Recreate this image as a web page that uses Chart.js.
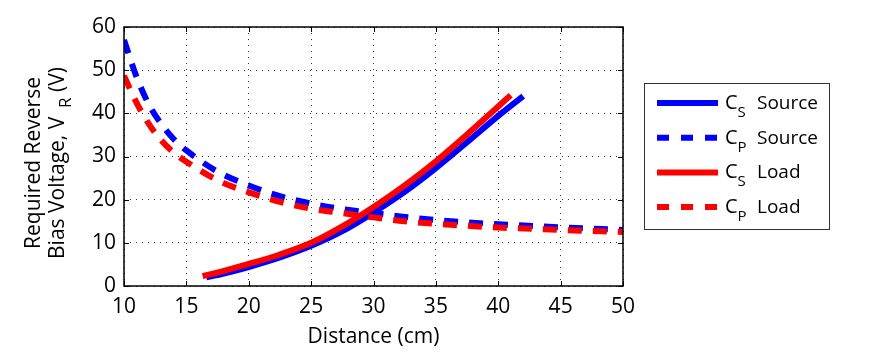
<!DOCTYPE html>
<html>
<head>
<meta charset="utf-8">
<script src="https://cdn.jsdelivr.net/npm/chart.js@4"></script>
<style>
  html, body { margin: 0; padding: 0; background: #fff; }
  canvas { display: block; }
</style>
</head>
<body>
<canvas id="c" width="872" height="364"></canvas>
<script>
// values (distance in cm, reverse bias in V)
const cpDist = [10, 11, 12, 13, 14, 15, 17.5, 20, 22.5, 25, 27.5, 30, 32.5, 35, 37.5, 40, 45, 50];
const cpSource = [57, 48.5, 42, 37.5, 34, 31.4, 26.5, 23.3, 20.8, 19.1, 17.8, 16.9, 16.0, 15.3, 14.75, 14.3, 13.6, 13.0];
const cpLoad = [48.7, 42.5, 37.5, 33.7, 30.9, 28.8, 24.5, 21.7, 19.5, 17.9, 16.9, 15.9, 15.0, 14.4, 13.95, 13.55, 13.0, 12.5];

const csSourceDist = [16.6, 18, 20, 22.5, 25, 27.5, 30, 32.5, 35, 37.5, 40, 42];
const csSource = [2, 2.9, 4.4, 6.6, 9.3, 12.7, 17.0, 21.8, 27.3, 33.3, 39.4, 44];
const csLoadDist = [16.3, 18, 20, 22.5, 25, 27.5, 30, 32.5, 35, 37.5, 40, 41];
const csLoad = [2.3, 3.5, 5.1, 7.3, 10, 13.8, 18.3, 23.3, 28.9, 35.1, 41.6, 44.2];

const xTicks = [10, 15, 20, 25, 30, 35, 40, 45, 50];
const yTicks = [0, 10, 20, 30, 40, 50, 60];

const BLUE = '#0000ff', RED = '#ff0000';
const DASH = [14, 11];
const FONT = '"Open Sans", sans-serif';

const pts = (xs, ys) => xs.map((x, i) => ({ x, y: ys[i] }));

const series = [
    { sub: 'S', name: 'Source', color: BLUE, dash: [], data: pts(csSourceDist, csSource), order: 4 },
    { sub: 'P', name: 'Source', color: BLUE, dash: DASH, data: pts(cpDist, cpSource), order: 3 },
    { sub: 'S', name: 'Load', color: RED, dash: [], data: pts(csLoadDist, csLoad), order: 2 },
    { sub: 'P', name: 'Load', color: RED, dash: DASH, data: pts(cpDist, cpLoad), order: 1 }
];

// text with a subscript, e.g. C_S Source
const drawSub = (ctx, x, y, parts) => {
    parts.forEach(([txt, size, dy]) => {
        ctx.font = `${size}px ${FONT}`;
        ctx.fillText(txt, x, y + dy);
        x += ctx.measureText(txt).width;
    });
    return x;
};
const subWidth = (ctx, parts) => parts.reduce((w, [txt, size]) => {
    ctx.font = `${size}px ${FONT}`;
    return w + ctx.measureText(txt).width;
}, 0);

const decor = {
    id: 'decor',
    afterDraw(chart) {
        const { ctx, chartArea: a, scales } = chart;
        ctx.save();
        // frame + inward ticks
        ctx.strokeStyle = '#000';
        ctx.lineWidth = 1.5;
        ctx.strokeRect(a.left, a.top, a.right - a.left, a.bottom - a.top);
        ctx.lineWidth = 1;
        ctx.beginPath();
        xTicks.forEach(v => {
            const px = Math.round(scales.x.getPixelForValue(v)) + 0.5;
            ctx.moveTo(px, a.bottom); ctx.lineTo(px, a.bottom - 5);
            ctx.moveTo(px, a.top); ctx.lineTo(px, a.top + 5);
        });
        yTicks.forEach(v => {
            const py = Math.round(scales.y.getPixelForValue(v)) + 0.5;
            ctx.moveTo(a.left, py); ctx.lineTo(a.left + 5, py);
            ctx.moveTo(a.right, py); ctx.lineTo(a.right - 5, py);
        });
        ctx.stroke();

        // axis titles
        ctx.fillStyle = '#000';
        ctx.textBaseline = 'alphabetic';
        ctx.textAlign = 'center';
        ctx.font = `21px ${FONT}`;
        ctx.fillText('Distance (cm)', (a.left + a.right) / 2, 343);

        ctx.save();
        ctx.translate(40, 163);
        ctx.rotate(-Math.PI / 2);
        ctx.fillText('Required Reverse', 0, 0);
        ctx.textAlign = 'left';
        const line2 = [['Bias Voltage, V', 21, 0], ['  R', 17, 7], [' (V)', 21, 0]];
        drawSub(ctx, -subWidth(ctx, line2) / 2, 24, line2);
        ctx.restore();

        // legend
        const L = { x: 644, y: 83, w: 185, h: 146 };
        ctx.fillStyle = '#fff';
        ctx.fillRect(L.x, L.y, L.w, L.h);
        ctx.strokeStyle = '#333';
        ctx.lineWidth = 1;
        ctx.strokeRect(L.x + 0.5, L.y + 0.5, L.w, L.h);
        series.forEach((s, i) => {
            const y = 103 + i * 34.7;
            ctx.strokeStyle = s.color;
            ctx.lineWidth = 6;
            ctx.setLineDash(s.dash.length ? [12, 12] : []);
            ctx.beginPath();
            ctx.moveTo(657, y); ctx.lineTo(718, y);
            ctx.stroke();
            ctx.setLineDash([]);
            ctx.fillStyle = '#000';
            ctx.textAlign = 'left';
            ctx.textBaseline = 'alphabetic';
            const x = drawSub(ctx, 725, y + 6, [['C', 20, 0], [s.sub, 15, 8]]);
            ctx.font = `19px ${FONT}`;
            ctx.fillText(s.name, Math.max(x + 5, 757), y + 6);
        });
        ctx.restore();
    }
};

new Chart(document.getElementById('c'), {
    type: 'line',
    data: {
        datasets: series.map(s => ({
            label: 'C' + s.sub + ' ' + s.name,
            data: s.data,
            borderColor: s.color,
            borderWidth: 6,
            borderDash: s.dash,
            borderCapStyle: 'butt',
            pointRadius: 0,
            cubicInterpolationMode: 'monotone',
            fill: false,
            order: s.order
        }))
    },
    options: {
        responsive: false,
        devicePixelRatio: 1,
        animation: false,
        layout: { padding: { left: 0, top: 27, right: 249, bottom: 0 } },
        plugins: { legend: { display: false }, tooltip: { enabled: false } },
        scales: {
            x: {
                type: 'linear',
                min: 10, max: 50,
                afterFit: s => { s.height = 78; },
                afterBuildTicks: s => { s.ticks = xTicks.map(value => ({ value })); },
                grid: { color: '#333', drawTicks: false },
                border: { display: false, dash: [1, 5] },
                ticks: { color: '#000', padding: 8, maxRotation: 0, font: { size: 21, family: FONT } }
            },
            y: {
                min: 0, max: 60,
                afterFit: s => { s.width = 124; },
                afterBuildTicks: s => { s.ticks = yTicks.map(value => ({ value })); },
                grid: { color: '#333', drawTicks: false },
                border: { display: false, dash: [1, 5] },
                ticks: { color: '#000', padding: 8, font: { size: 21, family: FONT } }
            }
        }
    },
    plugins: [decor]
});
</script>
</body>
</html>
